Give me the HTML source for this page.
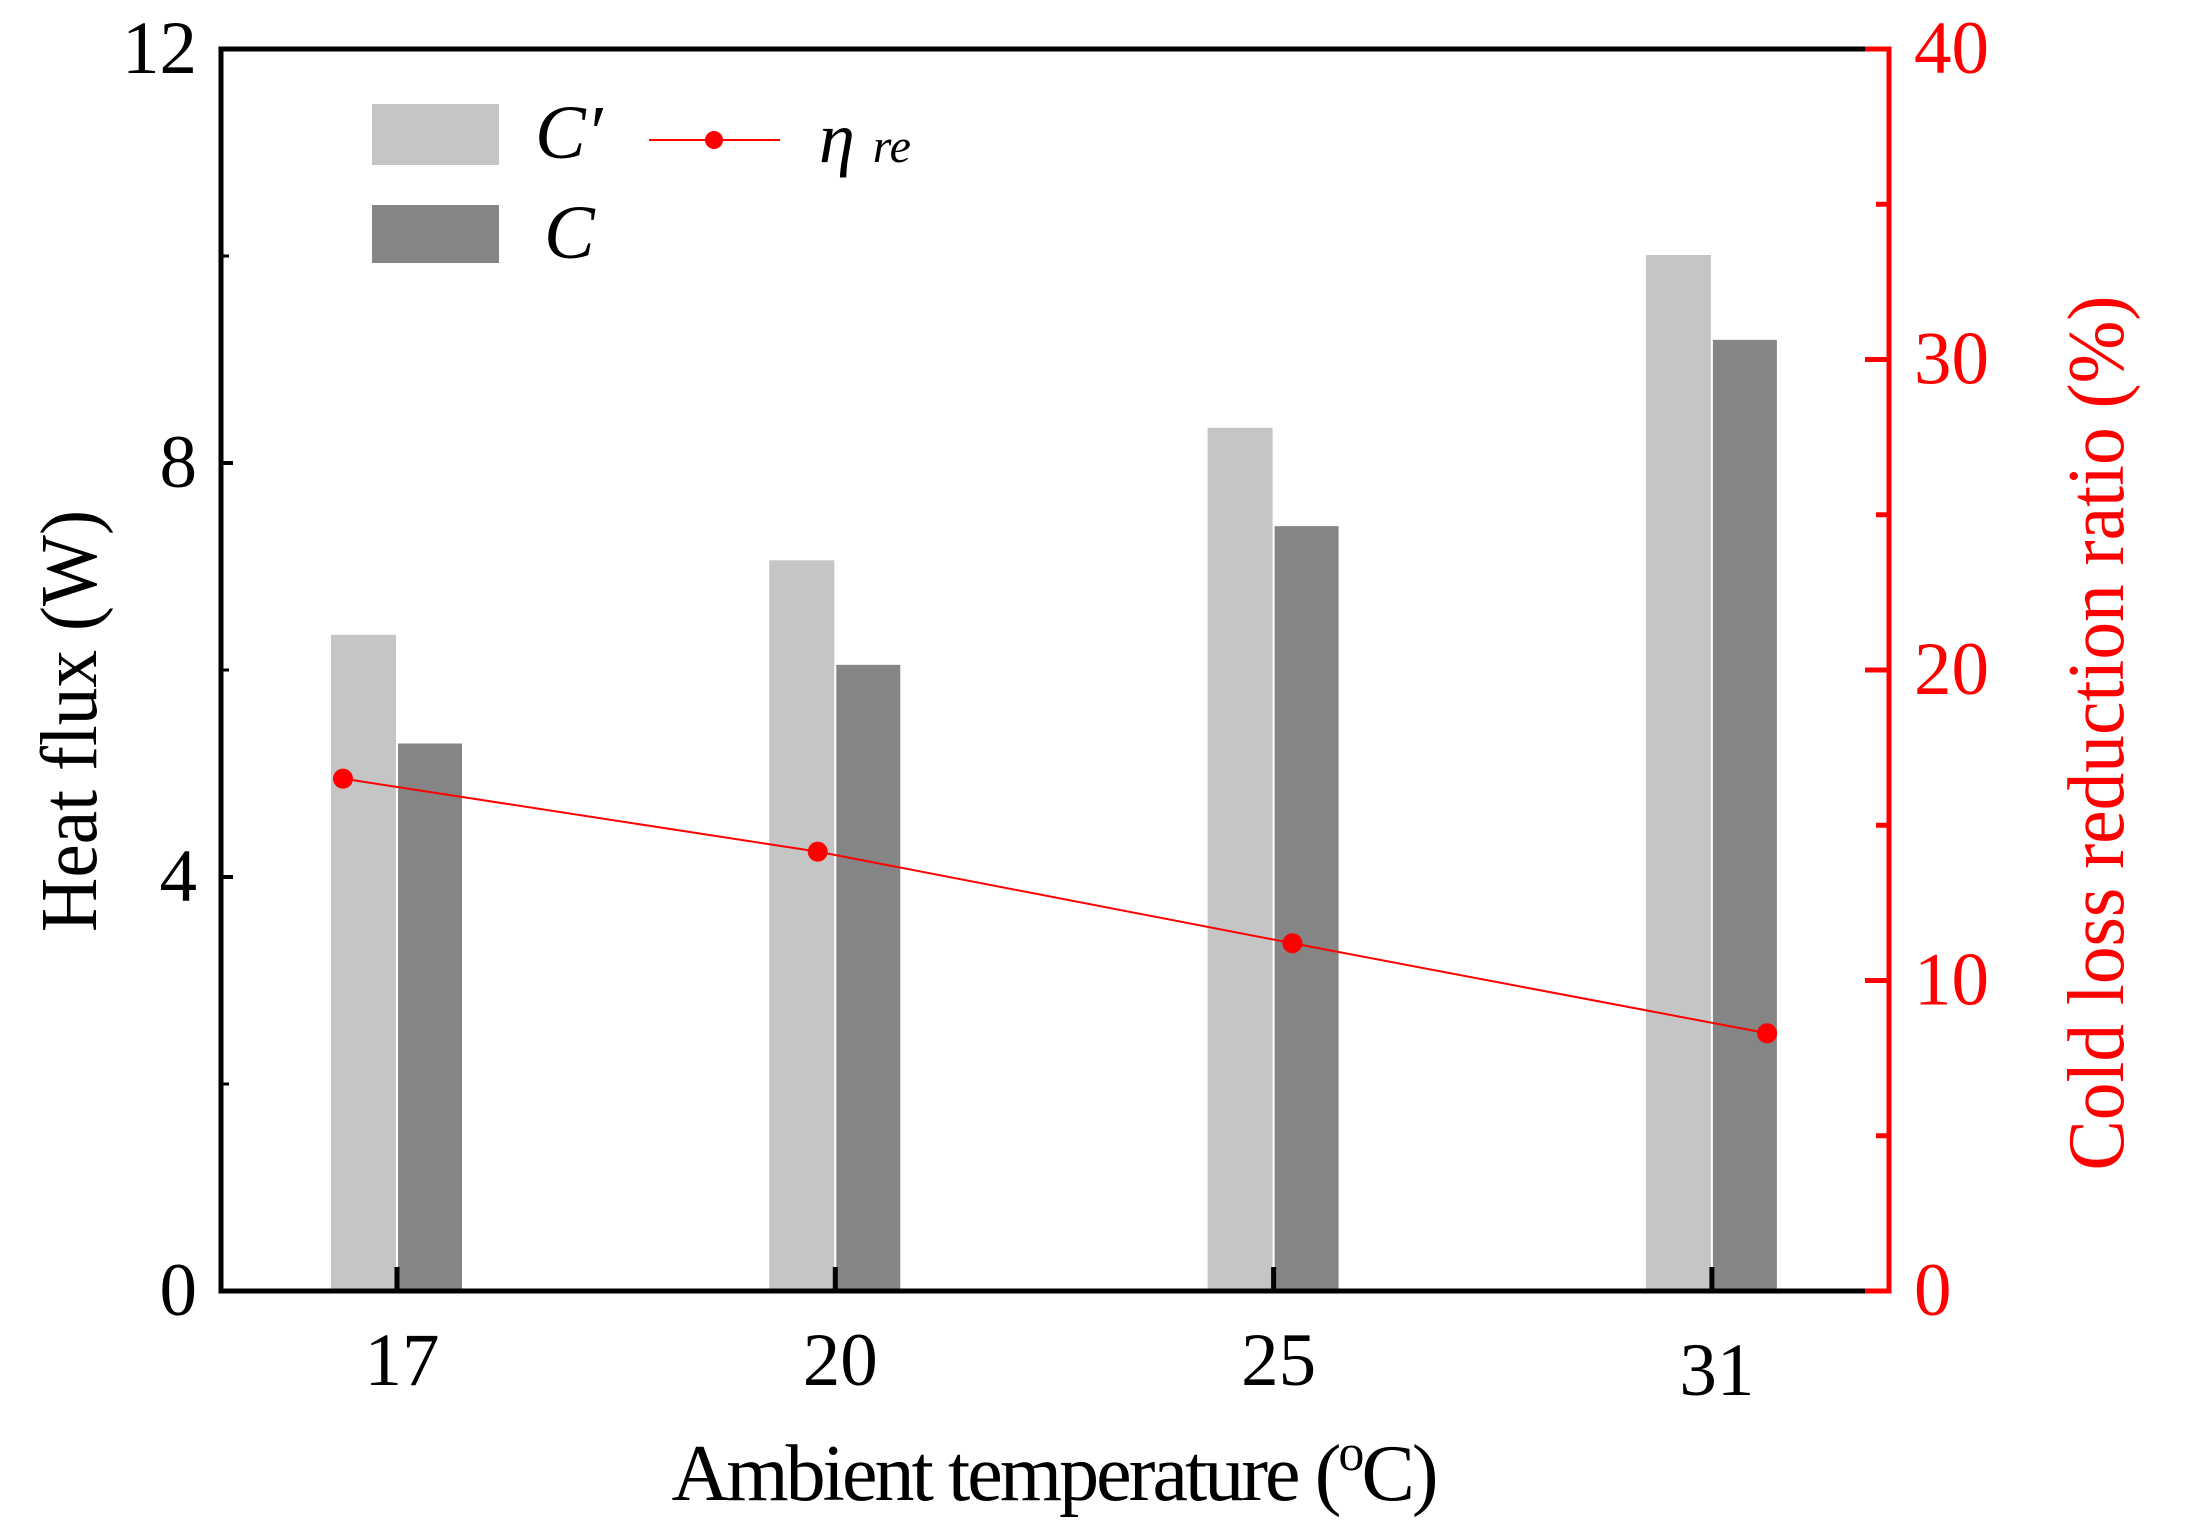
<!DOCTYPE html>
<html><head><meta charset="utf-8"><style>
html,body{margin:0;padding:0;background:#fff}
svg{display:block;font-family:"Liberation Serif",serif}
</style></head><body>
<svg id="chart" width="2187" height="1539" viewBox="0 0 2187 1539" xmlns="http://www.w3.org/2000/svg">
<rect x="0" y="0" width="2187" height="1539" fill="#fff"/>
<g id="bars"></g>
<g id="line"></g>
<g id="axes"></g>
<g>
<rect x="372" y="104" width="127" height="61" fill="#c5c5c5"/>
<text x="535" y="158" font-size="76" font-style="italic">C′</text>
<rect x="372" y="205" width="127" height="58" fill="#858585"/>
<text x="544" y="258" font-size="76" font-style="italic">C</text>
<line x1="649" y1="140" x2="780" y2="140" stroke="#f00" stroke-width="2"/>
<circle cx="714" cy="140" r="9" fill="#f00"/>
<text x="819" y="162" font-size="72" font-style="italic">η <tspan font-size="48">re</tspan></text>
</g>
<text x="1055" y="1500" font-size="80" text-anchor="middle" textLength="767">Ambient temperature (<tspan font-size="52" dy="-30">o</tspan><tspan dy="30">C)</tspan></text>
<text transform="translate(96,721) rotate(-90)" font-size="80" text-anchor="middle" textLength="422" lengthAdjust="spacingAndGlyphs">Heat flux (W)</text>
<text transform="translate(2123,733) rotate(-90)" font-size="80" text-anchor="middle" textLength="875" lengthAdjust="spacingAndGlyphs" fill="#f00">Cold loss reduction ratio (%)</text>
</svg>
<script>
const categories = ["17","20","25","31"];
const cPrime = [6.34, 7.06, 8.34, 10.01];
const cVals = [5.29, 6.05, 7.39, 9.19];
const eta = [16.5, 14.15, 11.2, 8.3];
const leftTicks = [0,4,8,12];
const leftMinor = [2,6,10];
const rightTicks = [0,10,20,30,40];
const rightMinor = [5,15,25,35];

const NS="http://www.w3.org/2000/svg";
const X0=221, X1=1889, Y0=1291, Y1=49;
function yL(v){return Y0-(v/12)*(Y0-Y1);}
function yR(v){return Y0-(v/40)*(Y0-Y1);}
function xCat(i){return 397+i*438.3;}
function xLine(i){return 343+i*474.7;}
function mk(tag,attrs,parent){const e=document.createElementNS(NS,tag);for(const k in attrs)e.setAttribute(k,attrs[k]);parent.appendChild(e);return e;}

const bars=document.getElementById('bars');
categories.forEach((c,i)=>{
  const cx=xCat(i);
  let r=mk('rect',{x:cx-66,y:yL(cPrime[i]),width:65,height:Y0-yL(cPrime[i]),fill:'#c5c5c5'},bars);
  
  
  r=mk('rect',{x:cx+1,y:yL(cVals[i]),width:64,height:Y0-yL(cVals[i]),fill:'#858585'},bars);
  
  
});

const line=document.getElementById('line');
const pts=eta.map((v,i)=>xLine(i)+','+yR(v)).join(' ');
const pl=mk('polyline',{points:pts,fill:'none',stroke:'#f00','stroke-width':2},line);


eta.forEach((v,i)=>{
  const p=mk('circle',{cx:xLine(i),cy:yR(v),r:10,fill:'#f00'},line);
  
  
});

const ax=document.getElementById('axes');
let a=mk('path',{d:`M${X1-24},${Y1} L${X0},${Y1} L${X0},${Y0} L${X1-24},${Y0}`,fill:'none',stroke:'#000','stroke-width':5},ax);


a=mk('path',{d:`M${X1-24},${Y1} L${X1},${Y1} L${X1},${Y0} L${X1-24},${Y0}`,fill:'none',stroke:'#f00','stroke-width':5},ax);


leftTicks.forEach(v=>{
  const y=yL(v);
  mk('line',{x1:X0,y1:y,x2:X0+12,y2:y,stroke:'#000','stroke-width':4},ax);
  const t=mk('text',{x:197,y:y+24,'font-size':75,'text-anchor':'end'},ax);
  t.textContent=v;
  
  
});
leftMinor.forEach(v=>{mk('line',{x1:X0,y1:yL(v),x2:X0+8,y2:yL(v),stroke:'#000','stroke-width':3},ax);});
rightTicks.forEach(v=>{
  const y=yR(v);
  mk('line',{x1:X1-24,y1:y,x2:X1,y2:y,stroke:'#f00','stroke-width':5},ax);
  const t=mk('text',{x:1914,y:y+24,'font-size':75,fill:'#f00'},ax);
  t.textContent=v;
  
  
});
rightMinor.forEach(v=>{mk('line',{x1:X1-13,y1:yR(v),x2:X1,y2:yR(v),stroke:'#f00','stroke-width':5},ax);});
categories.forEach((c,i)=>{
  const x=xCat(i);
  mk('line',{x1:x,y1:Y0,x2:x,y2:Y0-24,stroke:'#000','stroke-width':5},ax);
  const t=mk('text',{x:x+5,y:i===3?1395:1385,'font-size':75,'text-anchor':'middle'},ax);
  t.textContent=c;
  
  
});
</script>
</body></html>
